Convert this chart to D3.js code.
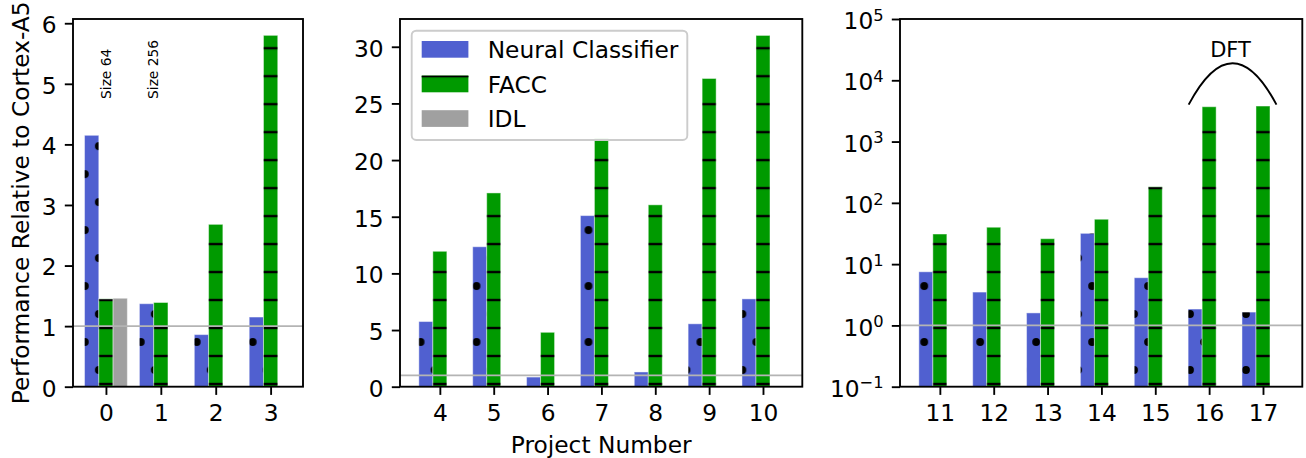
<!DOCTYPE html>
<html>
<head>
<meta charset="utf-8">
<script src="https://cdn.jsdelivr.net/npm/d3@7"></script>
<style>
  body { margin: 0; background: #fff; }
  text { font-family: "DejaVu Sans", sans-serif; fill: #000; }
</style>
</head>
<body>
<svg id="chart" width="1306" height="458"></svg>
<script>
// ---- data ----
const seriesNames = ["Neural Classifier", "FACC", "IDL"];
const seriesColors = ["#5060d0", "#009a00", "#a0a0a0"];

const projectsA = [0, 1, 2, 3];
const neuralA = [4.15, 1.37, 0.86, 1.15];
const faccA = [1.45, 1.39, 2.68, 5.80];
const idlA = [1.46, 0, 0, 0];

const projectsB = [4, 5, 6, 7, 8, 9, 10];
const neuralB = [5.75, 12.35, 0.85, 15.1, 1.3, 5.55, 7.75];
const faccB = [11.95, 17.1, 4.8, 21.9, 16.05, 27.2, 31.0];
const idlB = [0, 0, 0, 0, 0, 0, 0];

const projectsC = [11, 12, 13, 14, 15, 16, 17];
const neuralC = [7.5, 3.5, 1.6, 31.8, 6.0, 1.85, 1.65];
const faccC = [31, 40, 26, 54, 183, 3700, 3800];
const idlC = [0, 0, 0, 0, 0, 0, 0];

const yTicksA = [0, 1, 2, 3, 4, 5, 6];
const yTicksB = [0, 5, 10, 15, 20, 25, 30];
const yExponentsC = [-1, 0, 1, 2, 3, 4, 5];

const sizeNotes = ["Size 64", "Size 256"];
const sizeNoteX = [0, 0.85];
const sizeNoteY = 4.75;

const baselineValue = 1;
const dftLabel = "DFT";
const dftSpan = [15.62, 17.25];
const dftEndValue = 4000;
const dftPeakValue = 19000;

const yLabel = "Performance Relative to Cortex-A5";
const xLabel = "Project Number";

// ---- layout ----
const FS = 23.3;          // base font size (px)
const TICK = 8.2;         // tick length
const LW = 1.87;          // spine / tick width
const HATCH = 27.98;      // hatch cell size
const barWidth = 0.26;
const barOffsets = [-0.26, 0, 0.26];
const plotTop = 19, plotBottom = 386.7;

const svg = d3.select("#chart");
const defs = svg.append("defs");

// dotted hatch (filled dots, alternate rows shifted by half a cell)
const dots = defs.append("pattern")
  .attr("id", "hatch-dots").attr("patternUnits", "userSpaceOnUse")
  .attr("x", 140.8).attr("y", 342)
  .attr("width", HATCH).attr("height", 2 * HATCH);
[[0, 0], [HATCH, 0], [0, 2 * HATCH], [HATCH, 2 * HATCH], [HATCH / 2, HATCH]].forEach(([cx, cy]) => {
  dots.append("circle").attr("cx", cx).attr("cy", cy).attr("r", 3.9).attr("fill", "#000");
});

// horizontal line hatch
const lines = defs.append("pattern")
  .attr("id", "hatch-lines").attr("patternUnits", "userSpaceOnUse")
  .attr("x", 0).attr("y", 356 - HATCH / 2)
  .attr("width", HATCH).attr("height", HATCH);
lines.append("rect").attr("x", 0).attr("y", HATCH / 2 - 1.2)
  .attr("width", HATCH).attr("height", 2.4).attr("fill", "#000");

const hatches = ["url(#hatch-dots)", "url(#hatch-lines)", "none"];

const panels = [
  {
    projects: projectsA, series: [neuralA, faccA, idlA],
    x: d3.scaleLinear().domain([-0.6, 3.59]).range([73, 303]),
    y: d3.scaleLinear().domain([0, 6.07]).range([plotBottom, plotTop]),
    ticks: yTicksA, log: false
  },
  {
    projects: projectsB, series: [neuralB, faccB, idlB],
    x: d3.scaleLinear().domain([3.26, 10.73]).range([400, 802.3]),
    y: d3.scaleLinear().domain([0, 32.45]).range([plotBottom, plotTop]),
    ticks: yTicksB, log: false
  },
  {
    projects: projectsC, series: [neuralC, faccC, idlC],
    x: d3.scaleLinear().domain([10.26, 17.73]).range([900, 1302.3]),
    y: d3.scaleLog().domain([0.1, 1e5]).range([plotBottom, plotTop]),
    ticks: yExponentsC.map(e => Math.pow(10, e)), log: true
  }
];

panels.forEach((p) => {
  const g = svg.append("g");
  const [x0, x1] = p.x.range();
  const base = p.log ? p.y.range()[0] : p.y(0);

  // bars
  p.series.forEach((vals, si) => {
    const rows = p.projects.map((proj, i) => ({ proj, v: vals[i] })).filter(d => d.v > 0);
    const gs = g.append("g");
    const bx = d => p.x(d.proj + barOffsets[si] - barWidth / 2);
    const bw = p.x(barWidth) - p.x(0);
    gs.selectAll("rect.fill").data(rows).join("rect").attr("class", "fill")
      .attr("x", bx).attr("width", bw)
      .attr("y", d => p.y(d.v)).attr("height", d => base - p.y(d.v))
      .attr("fill", seriesColors[si]);
    if (hatches[si] !== "none") {
      gs.selectAll("rect.hatch").data(rows).join("rect").attr("class", "hatch")
        .attr("x", bx).attr("width", bw)
        .attr("y", d => p.y(d.v)).attr("height", d => base - p.y(d.v))
        .attr("fill", hatches[si]);
    }
    gs.selectAll("rect.edge").data(rows).join("rect").attr("class", "edge")
      .attr("x", bx).attr("width", bw)
      .attr("y", d => p.y(d.v)).attr("height", d => base - p.y(d.v))
      .attr("fill", "none").attr("stroke", "rgba(255,255,255,0.45)").attr("stroke-width", 1);
  });

  // reference line at 1x
  g.append("line")
    .attr("x1", x0).attr("x2", x1)
    .attr("y1", p.y(baselineValue)).attr("y2", p.y(baselineValue))
    .attr("stroke", "#b4b4b4").attr("stroke-width", 1.8);

  // axes
  const ax = g.append("g").attr("transform", `translate(0,${plotBottom})`)
    .call(d3.axisBottom(p.x).tickValues(p.projects).tickFormat(d3.format("d"))
      .tickSize(TICK).tickPadding(9.5));
  const ay = g.append("g").attr("transform", `translate(${x0},0)`)
    .call(d3.axisLeft(p.y).tickValues(p.ticks)
      .tickFormat(p.log ? () => "" : d3.format("d"))
      .tickSize(TICK).tickPadding(TICK));
  [ax, ay].forEach(a => {
    a.select(".domain").remove();
    a.selectAll(".tick line").attr("stroke", "#000").attr("stroke-width", LW);
    a.selectAll(".tick text").attr("font-size", FS).attr("font-family", "DejaVu Sans").attr("fill", "#000");
  });
  ay.selectAll(".tick text").attr("dy", "0.40em");

  if (p.log) {
    ay.selectAll(".tick text").each(function (d) {
      const e = Math.round(Math.log10(d));
      const t = d3.select(this).attr("dy", null)
        .attr("transform", "translate(0,9.7)");
      t.append("tspan").text("10");
      t.append("tspan").attr("font-size", FS * 0.7).attr("dy", -8.5)
        .text(e < 0 ? "\u2212" + Math.abs(e) : String(e));
    });
  }

  // frame
  g.append("rect")
    .attr("x", x0).attr("y", plotTop).attr("width", x1 - x0).attr("height", plotBottom - plotTop)
    .attr("fill", "none").attr("stroke", "#000").attr("stroke-width", LW);

  p.g = g;
});

// notes on the first panel
const pA = panels[0];
sizeNotes.forEach((s, i) => {
  const tx = pA.x(sizeNoteX[i]), ty = pA.y(sizeNoteY);
  pA.g.append("text")
    .attr("transform", `translate(${tx},${ty}) rotate(-90)`)
    .attr("dy", "0.36em").attr("font-size", 13.8)
    .text(s);
});

// DFT bracket on the log panel
const pC = panels[2];
{
  const xa = pC.x(dftSpan[0]), xb = pC.x(dftSpan[1]);
  const ya = pC.y(dftEndValue), yp = pC.y(dftPeakValue);
  const cy = 2 * yp - ya;
  const path = d3.path();
  path.moveTo(xa, ya);
  path.quadraticCurveTo((xa + xb) / 2, cy, xb, ya);
  pC.g.append("path").attr("d", path.toString())
    .attr("fill", "none").attr("stroke", "#000").attr("stroke-width", 1.9);
  pC.g.append("text").attr("x", (xa + xb) / 2 - 2).attr("y", yp - 6)
    .attr("text-anchor", "middle").attr("font-size", 21).text(dftLabel);
}

// legend in the middle panel
const lg = svg.append("g");
lg.append("rect").attr("x", 411.7).attr("y", 30.7).attr("width", 275.6).attr("height", 109.3)
  .attr("rx", 4.5).attr("fill", "rgba(255,255,255,0.8)")
  .attr("stroke", "#cccccc").attr("stroke-width", 1.9);
seriesNames.forEach((name, i) => {
  const yTop = 41 + i * 34.6;
  lg.append("rect").attr("x", 421.7).attr("y", yTop).attr("width", 46.7).attr("height", 16.7)
    .attr("fill", seriesColors[i]);
  if (hatches[i] !== "none") {
    lg.append("rect").attr("x", 421.7).attr("y", yTop).attr("width", 46.7).attr("height", 16.7)
      .attr("fill", hatches[i]);
  }
  lg.append("text").attr("x", 487.7).attr("y", yTop + 17).attr("font-size", FS).text(name);
});

// axis titles
svg.append("text").attr("x", 601.2).attr("y", 453.3)
  .attr("text-anchor", "middle").attr("font-size", FS).text(xLabel);
svg.append("text")
  .attr("transform", `translate(28.5,202.8) rotate(-90)`)
  .attr("text-anchor", "middle").attr("font-size", FS).text(yLabel);
</script>
</body>
</html>
